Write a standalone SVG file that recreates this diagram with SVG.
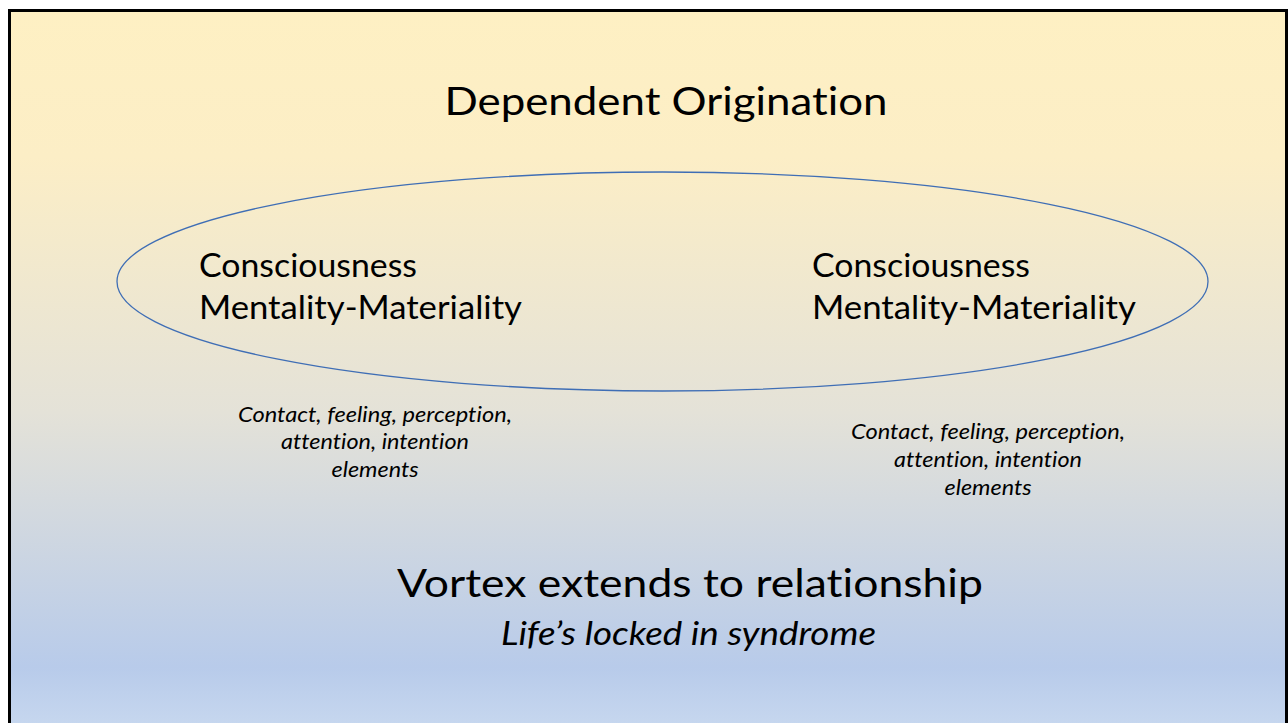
<svg xmlns="http://www.w3.org/2000/svg" width="1288" height="723" viewBox="0 0 1288 723">
<defs>
<linearGradient id="bg" x1="0" y1="0" x2="0" y2="1">
<stop offset="0" stop-color="#FEF0C3"/>
<stop offset="0.2" stop-color="#FCEEC6"/>
<stop offset="0.55" stop-color="#E4E2D8"/>
<stop offset="0.9" stop-color="#B8CBEA"/>
<stop offset="1" stop-color="#CADAF0"/>
</linearGradient>
<style>
text{font-family:Lato,"Liberation Sans",sans-serif;fill:#000;font-variant-ligatures:none}
.big{font-size:39px}
.mid{font-size:33.5px}
.it{font-style:italic;font-size:21px}
</style>
</defs>
<rect x="9.5" y="10.5" width="1277" height="730" fill="url(#bg)" stroke="#000" stroke-width="3"/>
<g id="title"><text class="big" x="666" y="115" text-anchor="middle" textLength="443" lengthAdjust="spacingAndGlyphs">Dependent Origination</text></g>
<g id="loop"><ellipse cx="662.5" cy="281.5" rx="545.5" ry="109.5" fill="none" stroke="#3F6EB5" stroke-width="1.3"/></g>
<g id="left-node">
<text class="mid" x="199" y="277" textLength="218" lengthAdjust="spacingAndGlyphs">Consciousness</text>
<text class="mid" x="199" y="319" textLength="323" lengthAdjust="spacingAndGlyphs">Mentality-Materiality</text>
</g>
<g id="right-node">
<text class="mid" x="812" y="277" textLength="218" lengthAdjust="spacingAndGlyphs">Consciousness</text>
<text class="mid" x="812" y="319" textLength="324" lengthAdjust="spacingAndGlyphs">Mentality-Materiality</text>
</g>
<g id="left-elements" text-anchor="middle">
<text class="it" x="375" y="421.5" textLength="274" lengthAdjust="spacingAndGlyphs">Contact, feeling, perception,</text>
<text class="it" x="375" y="449" textLength="188" lengthAdjust="spacingAndGlyphs">attention, intention</text>
<text class="it" x="375" y="477" textLength="87" lengthAdjust="spacingAndGlyphs">elements</text>
</g>
<g id="right-elements" text-anchor="middle">
<text class="it" x="988" y="439" textLength="274" lengthAdjust="spacingAndGlyphs">Contact, feeling, perception,</text>
<text class="it" x="988" y="467" textLength="188" lengthAdjust="spacingAndGlyphs">attention, intention</text>
<text class="it" x="988" y="495" textLength="87" lengthAdjust="spacingAndGlyphs">elements</text>
</g>
<g id="vortex" text-anchor="middle">
<text x="690" y="597" style="font-size:38px" textLength="586" lengthAdjust="spacingAndGlyphs">Vortex extends to relationship</text>
<text class="it" x="688.5" y="645" style="font-size:32px" textLength="375" lengthAdjust="spacingAndGlyphs">Life’s locked in syndrome</text>
</g>
</svg>
